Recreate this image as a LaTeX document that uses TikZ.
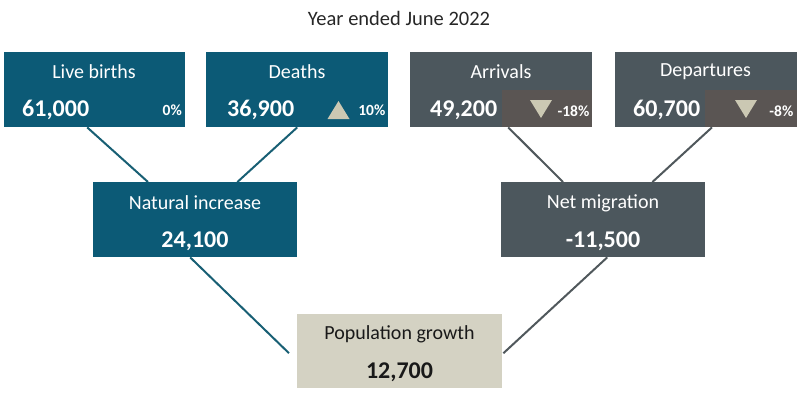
\documentclass[tikz,border=0pt]{standalone}
\usepackage{fontspec}
\setmainfont{Carlito}
\definecolor{nzteal}{HTML}{0C5A76}
\definecolor{nzgrey}{HTML}{4C575D}
\definecolor{nzinner}{HTML}{5A5553}
\definecolor{nztri}{HTML}{CBC8B3}
\definecolor{nzsand}{HTML}{D4D2C3}
\definecolor{nztealline}{HTML}{185F74}
\definecolor{nzgreyline}{HTML}{50585C}
\begin{document}
\begin{tikzpicture}[x=1pt,y=-1pt,
  box/.style={draw=none, fill=#1, anchor=north west, inner sep=0pt, minimum height=75pt},
  lbl/.style={font=\fontsize{20}{24}\selectfont, text=white, inner sep=0pt},
  val/.style={font=\bfseries\fontsize{24}{28}\selectfont, text=white, inner sep=0pt},
  pct/.style={font=\bfseries\fontsize{15.5}{18}\selectfont, text=white, anchor=east, inner sep=0pt},
  tline/.style={draw=nztealline, line width=2pt},
  gline/.style={draw=nzgreyline, line width=2pt},
  tri/.style={fill=nztri}]
\useasboundingbox (0,0) rectangle (800,397);
\node[font=\fontsize{20.5}{24}\selectfont, inner sep=0pt, text=black!85] (title) at (399,18) {Year ended June 2022};
% top boxes
\node[box=nzteal, minimum width=181pt] (lb) at (3.5,52) {};
\node[box=nzteal, minimum width=182pt] (de) at (206,52) {};
\node[box=nzgrey, minimum width=182pt] (ar) at (410,52) {};
\node[box=nzgrey, minimum width=182.5pt] (dp) at (614.5,52) {};
\node[box=nzinner, minimum width=90pt, minimum height=37pt] (arin) at (502,90) {};
\node[box=nzinner, minimum width=92pt, minimum height=37pt] (dpin) at (705,90) {};
% middle and bottom boxes
\node[box=nzteal, minimum width=204pt] (ni) at (93,182) {};
\node[box=nzgrey, minimum width=204pt] (nm) at (501,182) {};
\node[box=nzsand, minimum width=205pt, minimum height=74pt] (pg) at (297,314) {};
% labels
\node[lbl] (lbl1) at (94,72) {Live births};
\node[lbl] (lbl2) at (297,72) {Deaths};
\node[lbl] (lbl3) at (501,72) {Arrivals};
\node[lbl] (lbl4) at (705.5,72) {Departures};
\node[val, anchor=west] (v1) at (22,110) {61,000};
\node[val, anchor=west] (v2) at (227,110) {36,900};
\node[val, anchor=west] (v3) at (430,110) {49,200};
\node[val, anchor=west] (v4) at (633,110) {60,700};
\node[pct] (p1) at (182,110) {0\%};
\node[pct] (p2) at (385.5,110) {10\%};
\node[pct] (p3) at (589.5,111) {-18\%};
\node[pct] (p4) at (793.5,111) {-8\%};
\fill[tri] (327.5,119) -- (349.5,119) -- (338.5,101) -- cycle;
\fill[tri] (530,100) -- (552,100) -- (541,118) -- cycle;
\fill[tri] (735,100) -- (757,100) -- (746,118) -- cycle;
\node[lbl] (lbl5) at (195,203) {Natural increase};
\node[val] (v5) at (195,241) {24,100};
\node[lbl] (lbl6) at (603,203) {Net migration};
\node[val] (v6) at (603,241) {-11,500};
\node[lbl, text=black!90] (lbl7) at (399.5,334) {Population growth};
\node[val, text=black!90] (v7) at (399.5,372) {12,700};
% connectors
\draw[tline] ([xshift=-7pt]lb.south) -- ([xshift=55pt]ni.north west);
\draw[tline] (de.south) -- ([xshift=-60pt]ni.north east);
\draw[gline] ([xshift=7pt]ar.south) -- ([xshift=62pt]nm.north west);
\draw[gline] ([xshift=6pt]dp.south) -- ([xshift=-53pt]nm.north east);
\draw[tline] ([xshift=-5pt]ni.south) -- ([xshift=-8pt,yshift=-2pt]pg.west);
\draw[gline] ([xshift=4pt]nm.south) -- ([xshift=1pt,yshift=-2pt]pg.east);
\end{tikzpicture}
\end{document}
